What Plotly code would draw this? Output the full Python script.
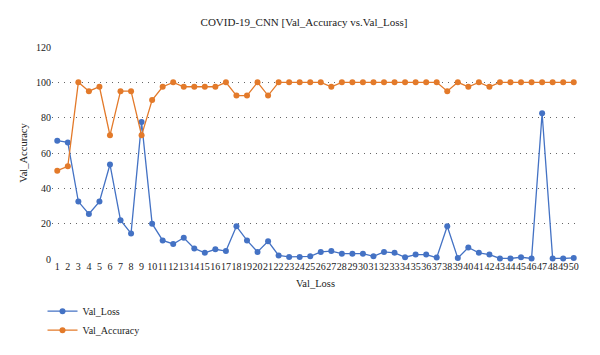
import plotly.graph_objects as go

epochs = list(range(1, 51))
val_loss = [67, 66, 32.5, 25.5, 32.5, 53.5, 22, 14.5, 77.5, 20,
            10.5, 8.5, 12, 6, 3.5, 5.5, 4.5, 18.5, 10.5, 4,
            10, 2, 1.2, 1.2, 1.5, 4, 4.5, 3, 3, 3,
            1.5, 4, 3.5, 1, 2.5, 2.5, 0.8, 18.5, 0.5, 6.5,
            3.5, 2.5, 0.3, 0.3, 1, 0.3, 82.5, 0.3, 0.3, 0.6]
val_acc = [50, 52.5, 100, 95, 97.5, 70, 95, 95, 70, 90,
           97.5, 100, 97.5, 97.5, 97.5, 97.5, 100, 92.5, 92.5, 100,
           92.5, 100, 100, 100, 100, 100, 97.5, 100, 100, 100,
           100, 100, 100, 100, 100, 100, 100, 95, 100, 97.5,
           100, 97.5, 100, 100, 100, 100, 100, 100, 100, 100]
y_ticks = [0, 20, 40, 60, 80, 100, 120]

FONT = "Liberation Serif"
BLUE = "#4472C4"
ORANGE = "#E37A2A"

fig = go.Figure()
fig.add_trace(go.Scatter(x=epochs, y=val_loss, name="Val_Loss", mode="lines+markers",
                         line=dict(color=BLUE, width=1.3), marker=dict(color=BLUE, size=6),
                         cliponaxis=False))
fig.add_trace(go.Scatter(x=epochs, y=val_acc, name="Val_Accuracy", mode="lines+markers",
                         line=dict(color=ORANGE, width=1.3), marker=dict(color=ORANGE, size=6),
                         cliponaxis=False))

W, H = 592, 347
fig.update_layout(
    width=W, height=H,
    margin=dict(l=44, r=21, t=39, b=95),
    paper_bgcolor="white", plot_bgcolor="white",
    font=dict(family=FONT, size=10, color="#222"),
    title=dict(text="COVID-19_CNN [Val_Accuracy vs.Val_Loss]", x=0.5, xanchor="center",
               y=1 - 14/H, yanchor="middle", font=dict(family=FONT, size=11, color="#222")),
    xaxis=dict(range=[0.5, 50.5], tickmode="array", tickvals=epochs, ticktext=[str(e) for e in epochs],
               tickangle=0, automargin=False,
               showgrid=False, zeroline=False, showline=False, ticks="",
               tickfont=dict(family=FONT, size=10, color="#222"),
               title=dict(text="Val_Loss", standoff=8, font=dict(family=FONT, size=10.5))),
    yaxis=dict(range=[0, 120], tickmode="array", tickvals=y_ticks, ticktext=[str(v) for v in y_ticks],
               automargin=False,
               showgrid=True, gridcolor="#666", griddash="1px,5px", gridwidth=1,
               zeroline=False, showline=False, ticks="",
               tickfont=dict(family=FONT, size=10, color="#222"),
               title=dict(text="Val_Accuracy", standoff=6, font=dict(family=FONT, size=10.5))),
    legend=dict(x=-0.018, xanchor="left", y=-0.172, yanchor="top", orientation="v",
                font=dict(family=FONT, size=10), tracegroupgap=0, itemwidth=30),
)

fig.write_html("out.html")
